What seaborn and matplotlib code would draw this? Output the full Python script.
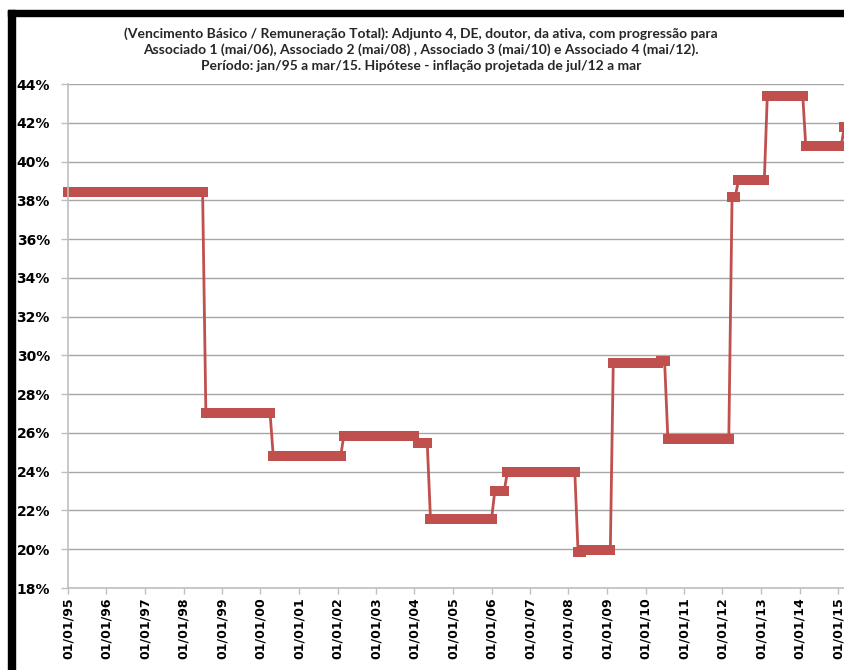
import numpy as np
import pandas as pd
import matplotlib
matplotlib.use("Agg")
import matplotlib.pyplot as plt
import matplotlib.dates as mdates
from matplotlib.patches import Rectangle
from matplotlib.ticker import FuncFormatter
import seaborn as sns

# ------------------------------
# Data: step levels (VB / remuneração total) and how many
# monthly observations sit on each level, starting jan/95, ending mar/15
# ------------------------------
levels = [38.45, 27.03, 24.82, 25.86, 25.50, 21.54, 23.00, 24.00, 19.85, 19.96,
          29.62, 29.70, 25.70, 38.19, 39.03, 43.36, 40.82, 41.76]
months_per_level = [43, 21, 22, 23, 4, 20, 4, 22, 2, 9,
                    15, 2, 20, 2, 9, 12, 12, 1]
start_month = "1995-01-01"

year_ticks = [str(y) for y in range(1995, 2016)]
y_ticks = [0.18, 0.20, 0.22, 0.24, 0.26, 0.28, 0.30, 0.32, 0.34, 0.36, 0.38, 0.40, 0.42, 0.44]

title = ("(Vencimento Básico / Remuneração Total): Adjunto 4, DE, doutor, da ativa, com progressão para\n"
         "Associado 1 (mai/06), Associado 2 (mai/08) , Associado 3 (mai/10) e Associado 4 (mai/12).\n"
         "Período: jan/95 a mar/15. Hipótese - inflação projetada de jul/12 a mar")

# build the monthly table
values = np.repeat(np.array(levels) / 100, months_per_level)
dates = pd.date_range(start_month, periods=len(values), freq="MS")
df = pd.DataFrame({"data": dates, "razao": values})

# ------------------------------
# Plot
# ------------------------------
sns.set_style("white")
red = "#c0504d"
grid_gray = "#a6a6a6"

fig = plt.figure(figsize=(8.45, 6.70), dpi=100)
W, H = 845, 670
# axes spans past the right edge: the original screenshot is cropped there
ax = fig.add_axes([68 / W, (H - 588) / H, (860 - 68) / W, (588 - 84) / H])

sns.lineplot(data=df, x="data", y="razao", ax=ax, color=red, linewidth=2,
             marker="s", markersize=6.5, markeredgewidth=0, markerfacecolor=red,
             clip_on=False)

x0 = mdates.date2num(pd.Timestamp(start_month))
ax.set_xlim(x0, x0 + (860 - 68) / 38.5 * 365.25)
ax.set_ylim(0.18, 0.44)

ax.set_yticks(y_ticks)
ax.yaxis.set_major_formatter(FuncFormatter(lambda v, p: f"{v * 100:.0f}%"))
ax.set_xticks([pd.Timestamp(f"{y}-01-01") for y in year_ticks])
ax.xaxis.set_major_formatter(mdates.DateFormatter("%d/%m/%y"))

ax.grid(axis="y", color=grid_gray, linewidth=1)
ax.grid(axis="x", visible=False)
ax.set_axisbelow(True)
for s in ["top", "right"]:
    ax.spines[s].set_visible(False)
for s in ["left", "bottom"]:
    ax.spines[s].set_color("#bfbfbf")
    ax.spines[s].set_linewidth(1.2)

ax.tick_params(axis="y", direction="out", length=5, width=1, color="#bfbfbf",
               pad=8, labelsize=10, left=True)
ax.tick_params(axis="x", direction="out", length=4, width=1, color="#bfbfbf",
               pad=3, labelsize=9, rotation=90, bottom=True)
for lab in ax.get_yticklabels():
    lab.set_fontweight("bold")
    lab.set_color("black")
for lab in ax.get_xticklabels():
    lab.set_fontweight("bold")
    lab.set_color("black")
ax.set_xlabel("")
ax.set_ylabel("")

fig.text(421 / W, 1 - 27 / H, title, ha="center", va="top", fontsize=10,
         fontweight="bold", family=["Lato", "DejaVu Sans"], linespacing=1.35)

# black frame from the original screenshot (left and top)
fig.patches.append(Rectangle((8 / W, 0), 7 / W, 1 - 10 / H, transform=fig.transFigure,
                             color="black", zorder=10))
fig.patches.append(Rectangle((8 / W, 1 - 16 / H), 1 - 8 / W, 6 / H, transform=fig.transFigure,
                             color="black", zorder=10))

fig.savefig("out.png", dpi=100)
